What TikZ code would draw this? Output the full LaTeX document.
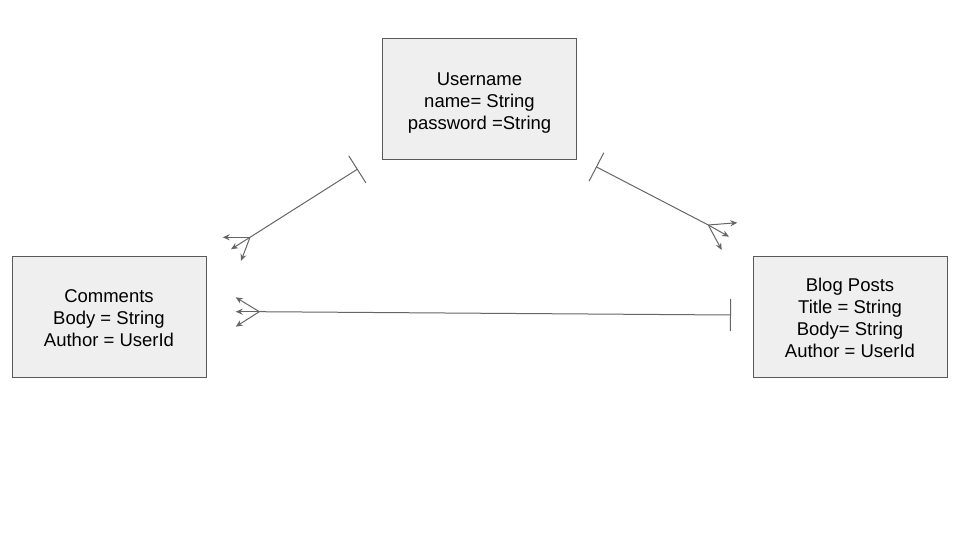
\documentclass[tikz,border=0pt]{standalone}
\usepackage{fontspec}
\setmainfont{Liberation Sans}
\definecolor{boxfill}{RGB}{239,239,239}
\definecolor{boxline}{RGB}{89,89,89}
\definecolor{linkgray}{RGB}{102,102,102}
\newcommand{\fieldlist}[1]{\raisebox{0pt}[\dimexpr\height+4pt\relax][\dimexpr\depth-4pt\relax]{\begin{tabular}{@{}c@{}}#1\end{tabular}}}
\usetikzlibrary{arrows.meta}

\begin{document}
\begin{tikzpicture}[
      x=1pt, y=-1pt,
      entity/.style={draw=boxline, fill=boxfill, line width=1pt, minimum width=194pt, minimum height=121pt, font=\fontsize{18.5}{22}\selectfont, inner sep=0pt},
      link/.style={linkgray, line width=1pt},
      onebar/.style={link, {Bar[width=32pt, line width=1pt]}-},
      fork/.style={-{Stealth[length=7pt, width=6pt]}, linkgray, line width=1pt}
    ]
      \useasboundingbox (0,0) rectangle (960,540);

      % Tables
      \node[entity] (user) at (479.5,99) {\fieldlist{Username\\name= String\\password =String}};
      \node[entity] (comments) at (109,316.5) {\fieldlist{Comments\\Body = String\\Author = UserId}};
      \node[entity] (posts) at (850,316.5) {\fieldlist{Blog Posts\\Title = String\\Body= String\\Author = UserId}};

      % Relation ends
      \coordinate (uc) at (357.7,169);
      \coordinate (cj) at (250,237.3);
      \coordinate (up) at (596,166.7);
      \coordinate (pj) at (708.3,225);
      \coordinate (pc) at (731,315);
      \coordinate (cpj) at (259.3,311.7);

      % Username -> Comments
      \draw[onebar] (uc) -- (cj);
      \draw[fork] (cj) -- (222.7,237.3);
      \draw[fork] (cj) -- (231,249.3);
      \draw[fork] (cj) -- (241,261);

      % Username -> Blog Posts
      \draw[onebar] (up) -- (pj);
      \draw[fork] (pj) -- (737.3,222.7);
      \draw[fork] (pj) -- (729,236.7);
      \draw[fork] (pj) -- (721.7,250);

      % Blog Posts -> Comments
      \draw[onebar] (pc) -- (cpj);
      \draw[fork] (cpj) -- (235.7,297.3);
      \draw[fork] (cpj) -- (235.7,311.7);
      \draw[fork] (cpj) -- (235.7,326.7);
    \end{tikzpicture}
\end{document}
